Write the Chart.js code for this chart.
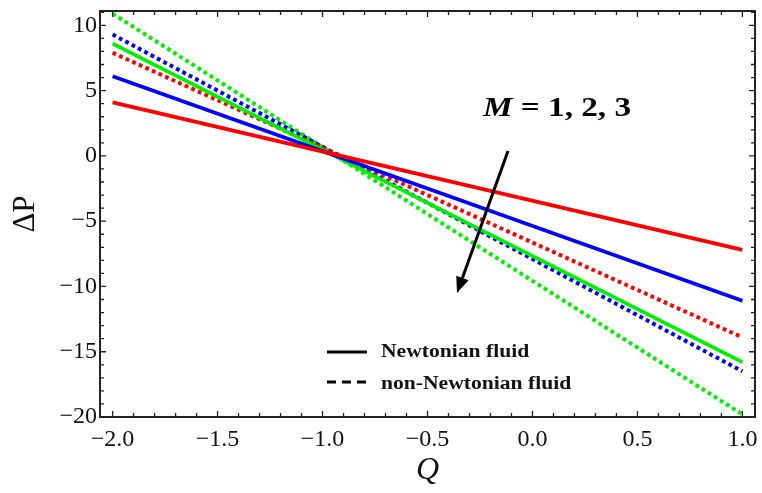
<!DOCTYPE html>
<html><head><meta charset="utf-8">
<script src="https://cdn.jsdelivr.net/npm/chart.js@4/dist/chart.umd.min.js"></script>
<style>html,body{margin:0;padding:0;background:#fff}#wrap{width:762px;height:493px}</style>
</head><body><div id="wrap"><canvas id="c" width="762" height="493"></canvas></div>
<script>
// ---- data ----
const qValues = [-2.0, 1.0];
const newtonianM1 = [4.1, -7.2];
const newtonianM2 = [6.1, -11.1];
const newtonianM3 = [8.6, -15.8];
const nonNewtonianM1 = [7.9, -13.9];
const nonNewtonianM2 = [9.3, -16.5];
const nonNewtonianM3 = [10.9, -19.8];
const xTickValues = [-2.0, -1.5, -1.0, -0.5, 0.0, 0.5, 1.0];
const yTickValues = [-20, -15, -10, -5, 0, 5, 10];
const legendLabels = ['Newtonian fluid', 'non-Newtonian fluid'];
const annotationParts = ['M', ' = 1, 2, 3'];
const xTitle = 'Q';
const yTitle = '\u0394P';

const RED = '#ff0000', BLUE = '#0000ff', GREEN = '#00f000';
const serif = "'Liberation Serif', 'Times New Roman', serif";

function pts(arr) { return qValues.map((q, i) => ({ x: q, y: arr[i] })); }
function ds(label, arr, color, dotted) {
  return {
    label, data: pts(arr), borderColor: color, backgroundColor: color,
    borderWidth: dotted ? 4 : 3.8, pointRadius: 0, borderDash: dotted ? [3.8, 3.4] : [],
    borderCapStyle: 'butt', tension: 0, fill: false
  };
}
function fmt(v, dec) {
  const s = Math.abs(v).toFixed(dec);
  return v < 0 ? '\u2212' + s : s;
}

const framePlugin = {
  id: 'frame',
  afterDatasetsDraw(chart) {
    const ctx = chart.ctx, a = chart.chartArea;
    const xs = chart.scales.x, ys = chart.scales.y;
    ctx.save();
    ctx.strokeStyle = '#222';
    ctx.lineWidth = 2;
    ctx.strokeRect(a.left, a.top, a.right - a.left, a.bottom - a.top);
    ctx.lineWidth = 1.3;
    // x ticks (bottom & top)
    for (let i = -21; i <= 11; i++) {
      const v = i / 10;
      if (v < xs.min || v > xs.max) continue;
      const px = xs.getPixelForValue(v);
      const major = (i % 5 === 0);
      const len = major ? 6 : 4;
      ctx.beginPath();
      ctx.moveTo(px, a.bottom); ctx.lineTo(px, a.bottom - len);
      ctx.moveTo(px, a.top); ctx.lineTo(px, a.top + len);
      ctx.stroke();
    }
    // y ticks (left & right)
    for (let v = -20; v <= 12; v++) {
      if (v < ys.min || v > ys.max) continue;
      const py = ys.getPixelForValue(v);
      const major = (v % 5 === 0);
      const len = major ? 6 : 4;
      ctx.beginPath();
      ctx.moveTo(a.left, py); ctx.lineTo(a.left + len, py);
      ctx.moveTo(a.right, py); ctx.lineTo(a.right - len, py);
      ctx.stroke();
    }
    // legend
    const lx = a.left + 227, ly1 = a.top + 341, ly2 = a.top + 371;
    ctx.strokeStyle = '#000';
    ctx.lineWidth = 3;
    ctx.setLineDash([]);
    ctx.beginPath(); ctx.moveTo(lx, ly1); ctx.lineTo(lx + 40, ly1); ctx.stroke();
    ctx.setLineDash([9, 6]);
    ctx.beginPath(); ctx.moveTo(lx, ly2); ctx.lineTo(lx + 40, ly2); ctx.stroke();
    ctx.setLineDash([]);
    ctx.fillStyle = '#111';
    ctx.font = 'bold 18px ' + serif;
    ctx.textBaseline = 'middle';
    ctx.textAlign = 'left';
    const sx = 1.2;
    ctx.save();
    ctx.translate(lx + 54, 0); ctx.scale(sx, 1);
    ctx.fillText(legendLabels[0], 0, ly1);
    ctx.fillText(legendLabels[1], 0, ly2 + 2);
    ctx.restore();
    // annotation text
    const tx = a.left + 383, ty = a.top + 98;
    ctx.save();
    ctx.translate(tx, 0); ctx.scale(1.23, 1);
    ctx.fillStyle = '#000';
    ctx.font = 'italic bold 27px ' + serif;
    ctx.fillText(annotationParts[0], 0, ty);
    const w = ctx.measureText(annotationParts[0]).width;
    ctx.font = 'bold 27px ' + serif;
    ctx.fillText(annotationParts[1], w, ty);
    ctx.restore();
    // arrow
    const x0 = a.left + 408, y0 = a.top + 140, x1 = a.left + 357, y1 = a.top + 282;
    const ang = Math.atan2(y1 - y0, x1 - x0);
    const hl = 16, hw = 6.5;
    const bx = x1 - hl * Math.cos(ang), by = y1 - hl * Math.sin(ang);
    ctx.strokeStyle = '#000';
    ctx.fillStyle = '#000';
    ctx.lineWidth = 3;
    ctx.beginPath(); ctx.moveTo(x0, y0); ctx.lineTo(bx, by); ctx.stroke();
    ctx.beginPath();
    ctx.moveTo(x1, y1);
    ctx.lineTo(bx + hw * Math.sin(ang), by - hw * Math.cos(ang));
    ctx.lineTo(bx - hw * Math.sin(ang), by + hw * Math.cos(ang));
    ctx.closePath(); ctx.fill();
    ctx.restore();
  }
};

new Chart(document.getElementById('c'), {
  type: 'line',
  data: {
    datasets: [
      ds('Newtonian M=1', newtonianM1, RED, false),
      ds('Newtonian M=2', newtonianM2, BLUE, false),
      ds('Newtonian M=3', newtonianM3, GREEN, false),
      ds('non-Newtonian M=1', nonNewtonianM1, RED, true),
      ds('non-Newtonian M=2', nonNewtonianM2, BLUE, true),
      ds('non-Newtonian M=3', nonNewtonianM3, GREEN, true)
    ]
  },
  options: {
    responsive: false, animation: false, devicePixelRatio: 1,
    layout: { padding: { top: 11, right: 7, left: 0, bottom: 0 } },
    plugins: { legend: { display: false }, tooltip: { enabled: false } },
    scales: {
      x: {
        type: 'linear', min: -2.06, max: 1.06,
        afterBuildTicks: s => { s.ticks = xTickValues.map(v => ({ value: v })); },
        afterFit: s => { s.height = 76; s.paddingLeft = 0; s.paddingRight = 0; },
        grid: { display: false, drawTicks: false, tickLength: 0 }, border: { display: false },
        ticks: { font: { family: serif, size: 24 }, color: '#111', padding: 8, maxRotation: 0,
                 callback: v => fmt(v, 1) },
        title: { display: true, text: xTitle, font: { family: serif, size: 32, style: 'italic' },
                 color: '#111', padding: { top: 0, bottom: 3 } }
      },
      y: {
        type: 'linear', min: -20, max: 11.1,
        afterBuildTicks: s => { s.ticks = yTickValues.map(v => ({ value: v })); },
        afterFit: s => { s.width = 100; s.paddingTop = 0; s.paddingBottom = 0; },
        grid: { display: false, drawTicks: false, tickLength: 0 }, border: { display: false },
        ticks: { font: { family: serif, size: 24 }, color: '#111', padding: 3,
                 callback: v => fmt(v, 0) },
        title: { display: true, text: yTitle, font: { family: serif, size: 31 },
                 color: '#111', padding: { top: 7, bottom: 0 } }
      }
    }
  },
  plugins: [framePlugin]
});
</script></body></html>
